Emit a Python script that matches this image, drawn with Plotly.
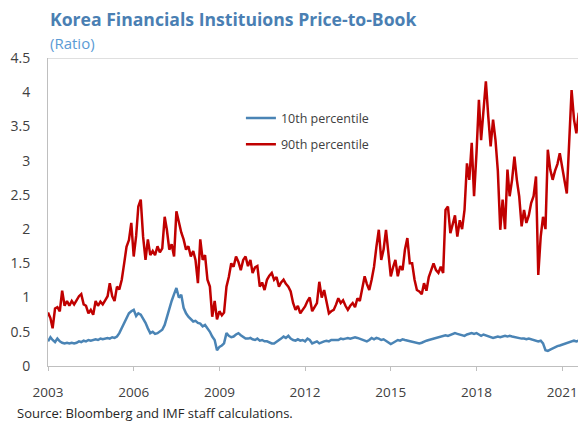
import pandas as pd
import plotly.graph_objects as go

# Monthly observations, Jan 2003 onward
p90 = [
    # 2003
    0.78, 0.70, 0.55, 0.84, 0.86, 0.80, 1.10, 0.88, 0.95, 0.88, 0.95, 0.90,
    # 2004
    0.96, 1.02, 1.05, 0.90, 0.88, 0.77, 0.82, 0.75, 0.95, 0.88, 0.94, 0.90,
    # 2005
    0.96, 1.02, 1.21, 1.02, 0.95, 1.16, 1.12, 1.26, 1.50, 1.74, 1.84, 2.09,
    # 2006
    1.60, 1.90, 2.33, 2.43, 1.89, 1.55, 1.85, 1.62, 1.68, 1.62, 1.75, 1.66,
    # 2007
    1.72, 2.18, 1.99, 1.70, 1.78, 1.60, 2.26, 2.09, 1.95, 1.85, 1.70, 1.75,
    # 2008
    1.60, 1.68, 1.55, 1.21, 1.85, 1.55, 1.62, 1.26, 1.16, 0.72, 0.95, 0.68,
    # 2009
    0.80, 0.74, 0.78, 1.16, 1.30, 1.50, 1.45, 1.60, 1.52, 1.40, 1.55, 1.60,
    # 2010
    1.46, 1.55, 1.36, 1.44, 1.46, 1.16, 1.22, 1.11, 1.26, 1.32, 1.36, 1.26,
    # 2011
    1.30, 1.16, 1.22, 1.26, 1.20, 1.16, 1.09, 0.92, 0.82, 0.88, 0.77, 0.82,
    # 2012
    0.87, 0.95, 1.00, 0.80, 0.85, 0.92, 1.23, 1.00, 1.11, 0.95, 0.77, 0.80,
    # 2013
    0.82, 0.90, 0.99, 0.92, 0.96, 0.88, 0.82, 0.88, 0.92, 0.86, 0.99, 0.95,
    # 2014
    1.16, 1.31, 1.20, 1.11, 1.26, 1.45, 1.74, 1.99, 1.55, 1.70, 1.99, 1.60,
    # 2015
    1.31, 1.45, 1.55, 1.31, 1.46, 1.40, 1.70, 1.87, 1.50, 1.50, 1.26, 1.11,
    # 2016
    1.09, 1.05, 1.21, 1.10, 1.30, 1.40, 1.50, 1.40, 1.36, 1.45, 1.36, 2.28,
    # 2017
    2.33, 1.94, 2.05, 2.20, 1.89, 2.13, 2.00, 2.28, 2.96, 2.72, 3.26, 2.48,
    # 2018
    3.11, 3.89, 3.30, 3.69, 4.16, 3.64, 3.21, 3.60, 3.30, 2.85, 1.99, 2.43,
    # 2019
    2.00, 2.87, 2.48, 2.72, 3.06, 2.72, 2.48, 2.04, 2.28, 2.09, 2.20, 2.38,
    # 2020
    2.48, 2.77, 1.33, 1.89, 2.18, 2.00, 3.16, 2.87, 2.72, 2.85, 2.95, 3.11,
    # 2021
    2.87, 2.70, 2.52, 3.21, 4.03, 3.60, 3.40, 3.70,
]

p10 = [
    # 2003
    0.36, 0.42, 0.38, 0.35, 0.40, 0.36, 0.34, 0.33, 0.34, 0.33, 0.34, 0.33,
    # 2004
    0.34, 0.36, 0.35, 0.37, 0.36, 0.38, 0.37, 0.38, 0.39, 0.38, 0.40, 0.39,
    # 2005
    0.40, 0.41, 0.40, 0.42, 0.41, 0.43, 0.48, 0.55, 0.62, 0.70, 0.77, 0.80,
    # 2006
    0.82, 0.73, 0.77, 0.75, 0.70, 0.63, 0.55, 0.48, 0.50, 0.47, 0.48, 0.50,
    # 2007
    0.53, 0.60, 0.72, 0.82, 0.95, 1.05, 1.14, 1.00, 1.04, 0.85, 0.77, 0.72,
    # 2008
    0.68, 0.65, 0.66, 0.63, 0.62, 0.58, 0.60, 0.55, 0.50, 0.43, 0.38, 0.23,
    # 2009
    0.28, 0.30, 0.33, 0.48, 0.44, 0.42, 0.43, 0.46, 0.48, 0.45, 0.42, 0.40,
    # 2010
    0.40, 0.41, 0.39, 0.38, 0.40, 0.37, 0.38, 0.36, 0.36, 0.34, 0.33, 0.33,
    # 2011
    0.35, 0.38, 0.40, 0.43, 0.41, 0.44, 0.40, 0.38, 0.37, 0.39, 0.37, 0.38,
    # 2012
    0.36, 0.40, 0.38, 0.33, 0.35, 0.36, 0.33, 0.35, 0.36, 0.37, 0.36, 0.38,
    # 2013
    0.38, 0.39, 0.38, 0.40, 0.39, 0.40, 0.41, 0.40, 0.41, 0.42, 0.41, 0.40,
    # 2014
    0.38, 0.37, 0.36, 0.38, 0.41, 0.39, 0.41, 0.40, 0.38, 0.39, 0.37, 0.35,
    # 2015
    0.32, 0.34, 0.36, 0.38, 0.37, 0.39, 0.38, 0.37, 0.36, 0.35, 0.34, 0.33,
    # 2016
    0.33, 0.34, 0.36, 0.37, 0.38, 0.39, 0.40, 0.41, 0.42, 0.43, 0.44, 0.45,
    # 2017
    0.44, 0.45, 0.46, 0.48, 0.47, 0.46, 0.45, 0.44, 0.46, 0.47, 0.48, 0.47,
    # 2018
    0.48, 0.46, 0.44, 0.46, 0.45, 0.43, 0.42, 0.41, 0.42, 0.43, 0.42, 0.43,
    # 2019
    0.44, 0.43, 0.44, 0.43, 0.42, 0.41, 0.41, 0.40, 0.40, 0.39, 0.40, 0.39,
    # 2020
    0.38, 0.37, 0.36, 0.37, 0.33, 0.23, 0.22, 0.24, 0.26, 0.27, 0.29, 0.30,
    # 2021
    0.31, 0.32, 0.33, 0.35, 0.36, 0.37, 0.36, 0.37,
]

dates = pd.date_range("2003-01-01", periods=len(p90), freq="MS")
year_ticks = ["2003", "2006", "2009", "2012", "2015", "2018", "2021"]

RED = "#C00000"
BLUE = "#4A84B5"
FONT = "Open Sans"

fig = go.Figure()
fig.add_trace(go.Scatter(x=dates, y=p10, mode="lines", name="10th percentile",
                         legendgroup="a", line=dict(color=BLUE, width=2.5)))
fig.add_trace(go.Scatter(x=dates, y=p90, mode="lines", name="90th percentile",
                         legendgroup="b", line=dict(color=RED, width=2.5)))

fig.update_layout(
    width=578, height=422,
    margin=dict(l=48, r=0, t=58, b=56, autoexpand=False),
    paper_bgcolor="white", plot_bgcolor="white",
    font=dict(family=FONT, color="#404040", size=14),
    showlegend=True,
    legend=dict(x=0.364, y=0.853, xanchor="left", yanchor="top",
                bgcolor="rgba(0,0,0,0)", font=dict(size=12.5, color="#404040"),
                tracegroupgap=7, traceorder="grouped"),
    xaxis=dict(
        type="date", range=["2003-01-01", "2021-07-22"], automargin=False,
        tickvals=[f"{y}-01-01" for y in year_ticks], ticktext=year_ticks,
        showgrid=False, zeroline=False, showline=True, linecolor="#BFBFBF", linewidth=1,
        ticks="outside", ticklen=4, tickcolor="#BFBFBF", ticklabelstandoff=10,
        ticklabeloverflow="allow",
        tickfont=dict(size=13.5, color="#404040"),
    ),
    yaxis=dict(
        range=[0, 4.5], dtick=0.5, automargin=False,
        showgrid=False, zeroline=False, showline=True, linecolor="#BFBFBF", linewidth=1,
        ticks="", ticklabelstandoff=14,
        tickfont=dict(size=14, color="#404040"),
    ),
    shapes=[dict(type="line", xref="paper", x0=0, x1=1, yref="y", y0=4.5, y1=4.5,
                 line=dict(color="#BFBFBF", width=1), layer="below")],
    annotations=[
        dict(text="<b>Korea Financials Instituions Price-to-Book</b>", xref="paper", yref="paper",
             x=0.0, y=1.127, xanchor="left", yanchor="middle", showarrow=False,
             font=dict(size=17.6, color="#4A7FB3", family=FONT)),
        dict(text="(Ratio)", xref="paper", yref="paper",
             x=0.0, y=1.05, xanchor="left", yanchor="middle", showarrow=False,
             font=dict(size=15, color="#5B9BD5", family=FONT)),
        dict(text="Source: Bloomberg and IMF staff calculations.", xref="paper", yref="paper",
             x=-0.062, y=-0.153, xanchor="left", yanchor="middle", showarrow=False,
             font=dict(size=13, color="#262626", family=FONT)),
    ],
)

fig.write_html(
    "out.html",
    config={"displayModeBar": False},
    post_script="document.body.style.margin='0';document.body.style.overflow='hidden';",
)
